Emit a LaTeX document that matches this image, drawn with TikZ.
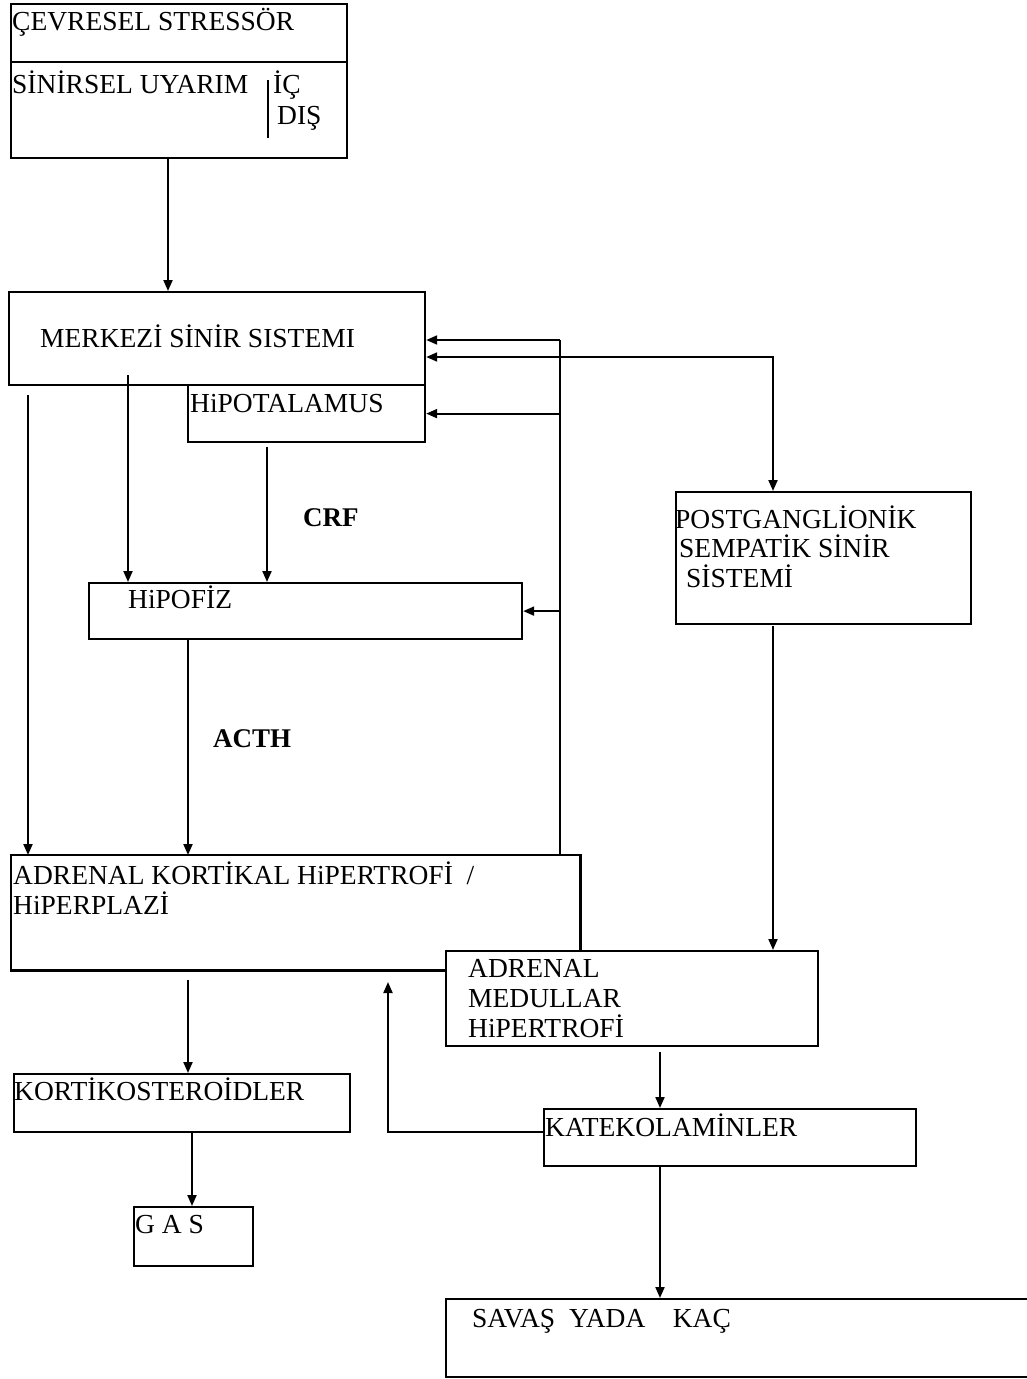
\documentclass[tikz,border=0pt]{standalone}
\usepackage{fontspec}
\setmainfont{Liberation Serif}
\usetikzlibrary{arrows.meta}
\tikzset{
  box/.style={draw, line width=2.2pt, rectangle, inner sep=0pt, anchor=north west},
  nobox/.style={rectangle, inner sep=0pt, anchor=north west},
  lbl/.style={anchor=base west, inner sep=0pt, font=\fontsize{27.5}{31}\selectfont},
  blbl/.style={anchor=base west, inner sep=0pt, font=\fontsize{27}{31}\selectfont\bfseries},
  ln/.style={line width=2pt},
  arr/.style={line width=2pt, -{Triangle[length=11pt,width=9pt]}},
  darr/.style={line width=2pt, {Triangle[length=11pt,width=9pt]}-{Triangle[length=11pt,width=9pt]}}
}
\begin{document}
\begin{tikzpicture}[x=1pt,y=-1pt]
\useasboundingbox[fill=white] (0,0) rectangle (1027,1379);

% boxes
\node[box, minimum width=336pt, minimum height=154pt] (top) at (10,3) {};
\node[box, minimum width=416pt, minimum height=93pt] (mss) at (8,291) {};
\node[box, minimum width=237pt, minimum height=57pt] (hypo) at (187,384) {};
\node[box, minimum width=433pt, minimum height=56pt] (hipo) at (88,582) {};
\node[box, minimum width=295pt, minimum height=132pt] (post) at (675,491) {};
\node[nobox, minimum width=569pt, minimum height=115pt] (kort) at (11,855) {};
\node[box, minimum width=372pt, minimum height=95pt] (med) at (445,950) {};
\node[box, minimum width=336pt, minimum height=58pt] (korti) at (13,1073) {};
\node[box, minimum width=119pt, minimum height=59pt] (gas) at (133,1206) {};
\node[box, minimum width=372pt, minimum height=57pt] (kat) at (543,1108) {};
\node[box, minimum width=600pt, minimum height=78pt] (savas) at (445,1298) {};

% top box divider and inner bar
\draw[line width=2.2pt] ([yshift=-59pt]top.north west) -- ([yshift=-59pt]top.north east);
\coordinate (bar1) at (268,80);
\coordinate (bar2) at (268,138);
\draw[ln] (bar1) -- (bar2);

% adrenal cortical open outline
\draw[line width=2.2pt] ([yshift=-95pt]kort.north east) -- (kort.north east) -- (kort.north west) -- (kort.south west) -- ([xshift=434pt]kort.south west);

% texts
\node[lbl] (t1) at (12,30) {ÇEVRESEL STRESSÖR};
\node[lbl] (t2) at (12,93) {SİNİRSEL UYARIM};
\node[lbl] (t3) at (273,93) {İÇ};
\node[lbl] (t4) at (277,124) {DIŞ};
\node[lbl] (t5) at (40,347) {MERKEZİ SİNİR SISTEMI};
\node[lbl] (t6) at (190,412) {HiPOTALAMUS};
\node[blbl] (crf) at (303,526) {CRF};
\node[lbl] (t7) at (128,608) {HiPOFİZ};
\node[lbl] (t8) at (675,528) {POSTGANGLİONİK};
\node[lbl] (t9) at (679,557) {SEMPATİK SİNİR};
\node[lbl] (t10) at (686,587) {SİSTEMİ};
\node[blbl] (acth) at (213,747) {ACTH};
\node[lbl] (t11) at (13,884) {ADRENAL KORTİKAL HiPERTROFİ \ /};
\node[lbl] (t12) at (13,914) {HiPERPLAZİ};
\node[lbl] (t13) at (468,977) {ADRENAL};
\node[lbl] (t14) at (468,1007) {MEDULLAR};
\node[lbl] (t15) at (468,1037) {HiPERTROFİ};
\node[lbl] (t16) at (14,1100) {KORTİKOSTEROİDLER};
\node[lbl] (t17) at (135,1233) {G A S};
\node[lbl] (t18) at (545,1136) {KATEKOLAMİNLER};
\node[lbl] (t19) at (472,1327) {SAVAŞ \ YADA \ \ \ KAÇ};

% connectors
\draw[arr] ([xshift=158pt]top.south west) -- ([xshift=160pt]mss.north west);

\coordinate (l1) at (28,395);
\draw[arr] (l1) -- (l1 |- kort.north);
\coordinate (l2) at (128,375);
\draw[arr] (l2) -- (l2 |- hipo.north);
\coordinate (l3) at (267,447);
\draw[arr] (l3) -- (l3 |- hipo.north);
\coordinate (l4) at (188,638);
\draw[arr] (l4) -- (l4 |- kort.north);

% feedback from cortex
\coordinate (fb) at (560,340);
\draw[ln] (fb |- kort.north) -- (fb);
\draw[arr] (fb) -- (mss.east |- fb);
\draw[arr] (fb |- hypo.east) -- (hypo.east);
\draw[arr] (fb |- hipo.east) -- (hipo.east);

% CNS <-> postganglionic
\coordinate (pg) at (773,357);
\draw[darr] (mss.east |- pg) -- (pg) -- (pg |- post.north);
\coordinate (l5) at (773,626);
\draw[arr] (l5) -- (l5 |- med.north);

% lower chain
\coordinate (l6) at (188,980);
\draw[arr] (l6) -- (l6 |- korti.north);
\coordinate (l7) at (192,1131);
\draw[arr] (l7) -- (l7 |- gas.north);
\coordinate (l8) at (660,1052);
\draw[arr] (l8) -- (l8 |- kat.north);
\coordinate (l9) at (660,1165);
\draw[arr] (l9) -- (l9 |- savas.north);

% catecholamine feedback
\coordinate (fk) at (388,1132);
\coordinate (fk2) at (388,982);
\draw[arr] (kat.west |- fk) -- (fk) -- (fk2);
\end{tikzpicture}
\end{document}
